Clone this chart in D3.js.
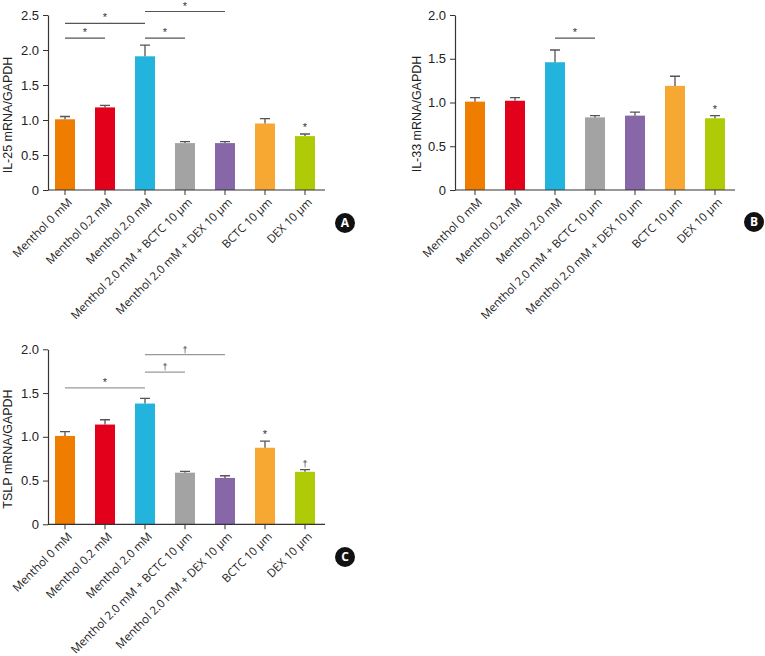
<!DOCTYPE html>
<html>
<head>
<meta charset="utf-8">
<script src="https://cdn.jsdelivr.net/npm/d3@7"></script>
<style>
  html, body { margin: 0; padding: 0; background: #fff; }
  svg { display: block; }
</style>
</head>
<body>
<svg id="chart" width="765" height="656"></svg>
<script>
// ---------- data ----------
const categories = [
  "Menthol 0 mM",
  "Menthol 0.2 mM",
  "Menthol 2.0 mM",
  "Menthol 2.0 mM + BCTC 10 μm",
  "Menthol 2.0 mM + DEX 10 μm",
  "BCTC 10 μm",
  "DEX 10 μm"
];
const barColors = ["#EF7D00", "#E2001A", "#23B4DE", "#A3A3A3", "#8767A7", "#F7A833", "#AFCB08"];

const il25Mean = [1.01, 1.18, 1.91, 0.67, 0.67, 0.95, 0.77];
const il25Sem  = [0.04, 0.03, 0.16, 0.02, 0.02, 0.07, 0.03];
const il33Mean = [1.01, 1.02, 1.46, 0.83, 0.85, 1.19, 0.82];
const il33Sem  = [0.045, 0.035, 0.14, 0.02, 0.04, 0.11, 0.03];
const tslpMean = [1.01, 1.14, 1.38, 0.59, 0.53, 0.875, 0.60];
const tslpSem  = [0.05, 0.055, 0.06, 0.015, 0.025, 0.075, 0.025];

const il25Ticks = [0, 0.5, 1.0, 1.5, 2.0, 2.5];
const il33Ticks = [0, 0.5, 1.0, 1.5, 2.0];
const tslpTicks = [0, 0.5, 1.0, 1.5, 2.0];

// brackets: [fromIndex, toIndex, yValue, symbol]
const il25Brackets = [[0, 1, 2.17, "*"], [0, 2, 2.38, "*"], [2, 3, 2.17, "*"], [2, 4, 2.55, "*"]];
const il33Brackets = [[2, 3, 1.735, "*"]];
const tslpBrackets = [[0, 2, 1.56, "*"], [2, 3, 1.74, "†"], [2, 4, 1.94, "†"]];
// marks above single bars: [index, symbol]
const il25Marks = [[6, "*"]];
const il33Marks = [[6, "*"]];
const tslpMarks = [[5, "*"], [6, "†"]];

// ---------- drawing ----------
const svg = d3.select("#chart");
const tickFont = "'Liberation Sans', Arial, sans-serif";
const labelFont = "'Open Sans', 'Noto Sans', sans-serif";

function panel(cfg) {
  const g = svg.append("g");
  const x = d3.scaleBand().domain(categories)
    .range([cfg.bandLeft, cfg.axisRight])
    .paddingInner(0.5).paddingOuter(0.25);
  const y = d3.scaleLinear().domain([0, cfg.max]).range([cfg.bottom, cfg.top]);
  const axisColor = "#333";

  // bars
  g.selectAll("rect.bar").data(cfg.mean).join("rect")
    .attr("class", "bar")
    .attr("x", (d, i) => x(categories[i]))
    .attr("width", x.bandwidth())
    .attr("y", d => y(d))
    .attr("height", d => y(0) - y(d))
    .attr("fill", (d, i) => barColors[i]);

  // error bars (upper only)
  const cx = i => x(categories[i]) + x.bandwidth() / 2;
  g.selectAll("path.err").data(cfg.mean).join("path")
    .attr("class", "err")
    .attr("d", (d, i) => {
      const top = y(d + cfg.sem[i]);
      return `M${cx(i)},${y(d)}V${top}M${cx(i) - 5},${top}H${cx(i) + 5}`;
    })
    .attr("stroke", "#555").attr("stroke-width", 1.3).attr("fill", "none");

  // y axis
  const yAxis = d3.axisLeft(y).tickValues(cfg.ticks)
    .tickFormat(d => d === 0 ? "0" : d3.format(".1f")(d))
    .tickSize(5).tickSizeOuter(0);
  const ya = g.append("g").attr("transform", `translate(${cfg.axisLeft},0)`).call(yAxis);
  ya.select(".domain").attr("stroke", axisColor).attr("stroke-width", 1.2);
  ya.selectAll(".tick line").attr("stroke", axisColor);
  ya.selectAll(".tick text").attr("font-family", tickFont).attr("font-size", 13)
    .attr("fill", "#222").attr("x", -9);

  // x axis
  const xAxis = d3.axisBottom(x).tickSize(5).tickSizeOuter(0).tickFormat("");
  const xa = g.append("g").attr("transform", `translate(0,${cfg.bottom})`).call(xAxis);
  xa.select(".domain").remove();
  xa.selectAll(".tick line").attr("stroke", axisColor);
  g.append("line").attr("x1", cfg.axisLeft).attr("x2", cfg.axisRight)
    .attr("y1", cfg.bottom).attr("y2", cfg.bottom)
    .attr("stroke", axisColor).attr("stroke-width", 1.2);

  // rotated x labels
  g.selectAll("text.xl").data(categories).join("text")
    .attr("class", "xl")
    .attr("transform", d => `translate(${x(d) + x.bandwidth() / 2 + 5},${cfg.bottom + 10}) rotate(-45)`)
    .attr("text-anchor", "end").attr("dy", "0.35em")
    .attr("font-family", labelFont).attr("font-size", 11.5).attr("fill", "#222")
    .text(d => d);

  // y title
  g.append("text")
    .attr("transform", `translate(${cfg.titleX},${cfg.titleY}) rotate(-90)`)
    .attr("text-anchor", "middle").attr("dy", "0.35em")
    .attr("font-family", tickFont).attr("font-size", 12.5).attr("fill", "#222")
    .text(cfg.title);

  // significance brackets
  cfg.brackets.forEach(([a, b, v, s]) => {
    const yy = y(v);
    g.append("line").attr("x1", cx(a)).attr("x2", cx(b)).attr("y1", yy).attr("y2", yy)
      .attr("stroke", cfg.bracketColor).attr("stroke-width", 1.2);
    g.append("text").attr("x", (cx(a) + cx(b)) / 2).attr("y", yy - 2)
      .attr("text-anchor", "middle").attr("font-family", tickFont)
      .attr("font-size", s === "*" ? 11 : 9).attr("fill", "#333").text(s);
  });
  cfg.marks.forEach(([i, s]) => {
    const top = y(cfg.mean[i] + cfg.sem[i]);
    g.append("text").attr("x", cx(i)).attr("y", top - 3)
      .attr("text-anchor", "middle").attr("font-family", tickFont)
      .attr("font-size", s === "*" ? 11 : 9).attr("fill", "#333").text(s);
  });

  // panel letter
  g.append("circle").attr("cx", cfg.letterX).attr("cy", cfg.letterY).attr("r", 10).attr("fill", "#111");
  g.append("text").attr("x", cfg.letterX).attr("y", cfg.letterY).attr("dy", "0.36em")
    .attr("text-anchor", "middle").attr("font-family", labelFont).attr("font-weight", "bold")
    .attr("font-size", 12).attr("fill", "#fff").text(cfg.letter);
}

panel({
  mean: il25Mean, sem: il25Sem, ticks: il25Ticks, max: 2.5,
  top: 15, bottom: 190, axisLeft: 48, bandLeft: 45, axisRight: 325,
  title: "IL-25 mRNA/GAPDH", titleX: 8, titleY: 115,
  brackets: il25Brackets, marks: il25Marks, bracketColor: "#555",
  letter: "A", letterX: 345, letterY: 223
});
panel({
  mean: il33Mean, sem: il33Sem, ticks: il33Ticks, max: 2.0,
  top: 15, bottom: 190, axisLeft: 455, bandLeft: 455, axisRight: 735,
  title: "IL-33 mRNA/GAPDH", titleX: 417, titleY: 114,
  brackets: il33Brackets, marks: il33Marks, bracketColor: "#555",
  letter: "B", letterX: 754, letterY: 222
});
panel({
  mean: tslpMean, sem: tslpSem, ticks: tslpTicks, max: 2.0,
  top: 349.3, bottom: 524.3, axisLeft: 48, bandLeft: 45, axisRight: 325,
  title: "TSLP mRNA/GAPDH", titleX: 8, titleY: 449,
  brackets: tslpBrackets, marks: tslpMarks, bracketColor: "#999",
  letter: "C", letterX: 345, letterY: 557
});
</script>
</body>
</html>
